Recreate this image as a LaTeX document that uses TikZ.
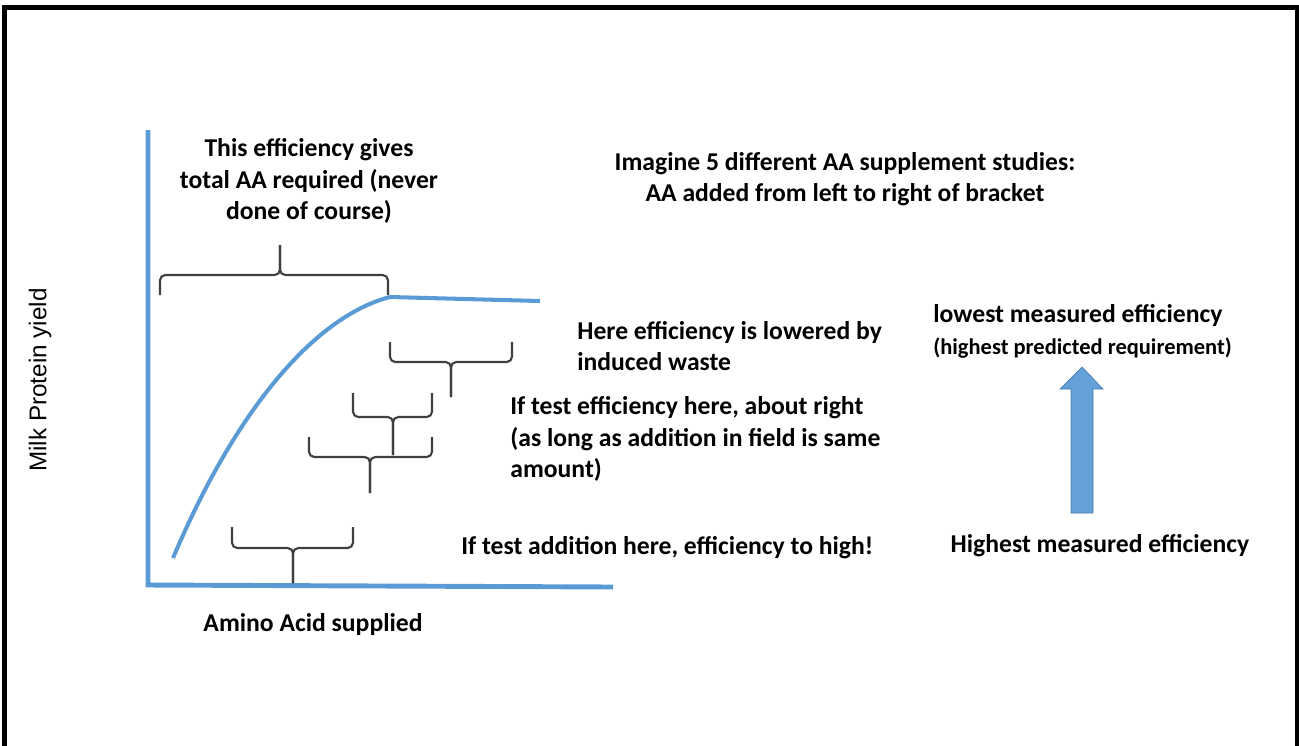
\documentclass[tikz,border=0pt]{standalone}
\usepackage{fontspec}
\setmainfont{Carlito}
\newfontfamily\axisfont{Liberation Sans}
\definecolor{axisblue}{HTML}{5B9BD5}
\definecolor{arrowblue}{HTML}{64A1D8}
\definecolor{bracketgray}{HTML}{404040}
\tikzset{
    brkt/.style={bracketgray, line width=1.2pt, rounded corners=3pt},
    axisline/.style={axisblue, line width=2.8pt},
    lbl/.style={inner sep=0pt, font=\bfseries\fontsize{14.6}{18}\selectfont}
}
\begin{document}
\begin{tikzpicture}[x=0.02cm, y=-0.02cm]
    \useasboundingbox (0,0) rectangle (1299,745);
    % khung
    \draw[line width=2.8pt] (4.5,760) -- (4.5,7.5) -- (1297.5,7.5) -- (1297.5,760);

    % truc toa do
    \draw[axisline] (148,130) -- (148,585) -- (613,587);
    \node[inner sep=0pt, rotate=90, font=\axisfont\fontsize{13.8}{16}\selectfont] (ylab) at (40,380) {Milk Protein yield};
    \node[lbl, align=center] (xlab) at (313,625) {Amino Acid supplied};

    % duong cong
    \draw[axisblue, line width=2.3pt] (173,558) .. controls (240,400) and (320,315) .. (390,297) -- (540,301);

    % ngoac tren
    \draw[brkt] (160,295) -- (160,275) -- (280,275) -- (280,245);
    \draw[brkt] (388,295) -- (388,275) -- (280,275) -- (280,245);

    % cac ngoac duoi: trai/phai/dinh/ngang/giua/chan
    \foreach \l/\r/\t/\h/\c/\s in {390/512/342/362/451/397, 353/432/393/417/393/455,
        309/432/437/457/370/493, 232/353/527/548/293/583} {
        \draw[brkt] (\l,\t) -- (\l,\h) -- (\c,\h) -- (\c,\s);
        \draw[brkt] (\r,\t) -- (\r,\h) -- (\c,\h) -- (\c,\s);
    }

    % chu thich
    \node[lbl, align=center] (total) at (309,181) {This efficiency gives\\total AA required (never\\done of course)};
    \node[lbl, align=center] (imagine) at (845,179) {Imagine 5 different AA supplement studies:\\AA added from left to right of bracket};
    \node[lbl, align=left, anchor=west] (waste) at (577,346) {Here efficiency is lowered by\\induced waste};
    \node[lbl, align=left, anchor=west] (right) at (510,439) {If test efficiency here, about right\\(as long as addition in field is same\\amount)};
    \node[lbl, anchor=west] (high) at (461,548) {If test addition here, efficiency to high!};
    \node[lbl, anchor=west] (lowest) at (933,315) {lowest measured efficiency};
    \node[lbl, anchor=west, font=\bfseries\fontsize{12.8}{15}\selectfont] (predicted) at (933,348) {(highest predicted requirement)};
    \node[lbl] (highest) at (1100,546) {Highest measured efficiency};

    % mui ten
    \draw[fill=arrowblue, draw=axisblue!80!black, line width=0.4pt]
        (1071,513) -- (1071,389) -- (1060,389) -- (1082,367) -- (1103,389) -- (1093,389) -- (1093,513) -- cycle;
\end{tikzpicture}
\end{document}
